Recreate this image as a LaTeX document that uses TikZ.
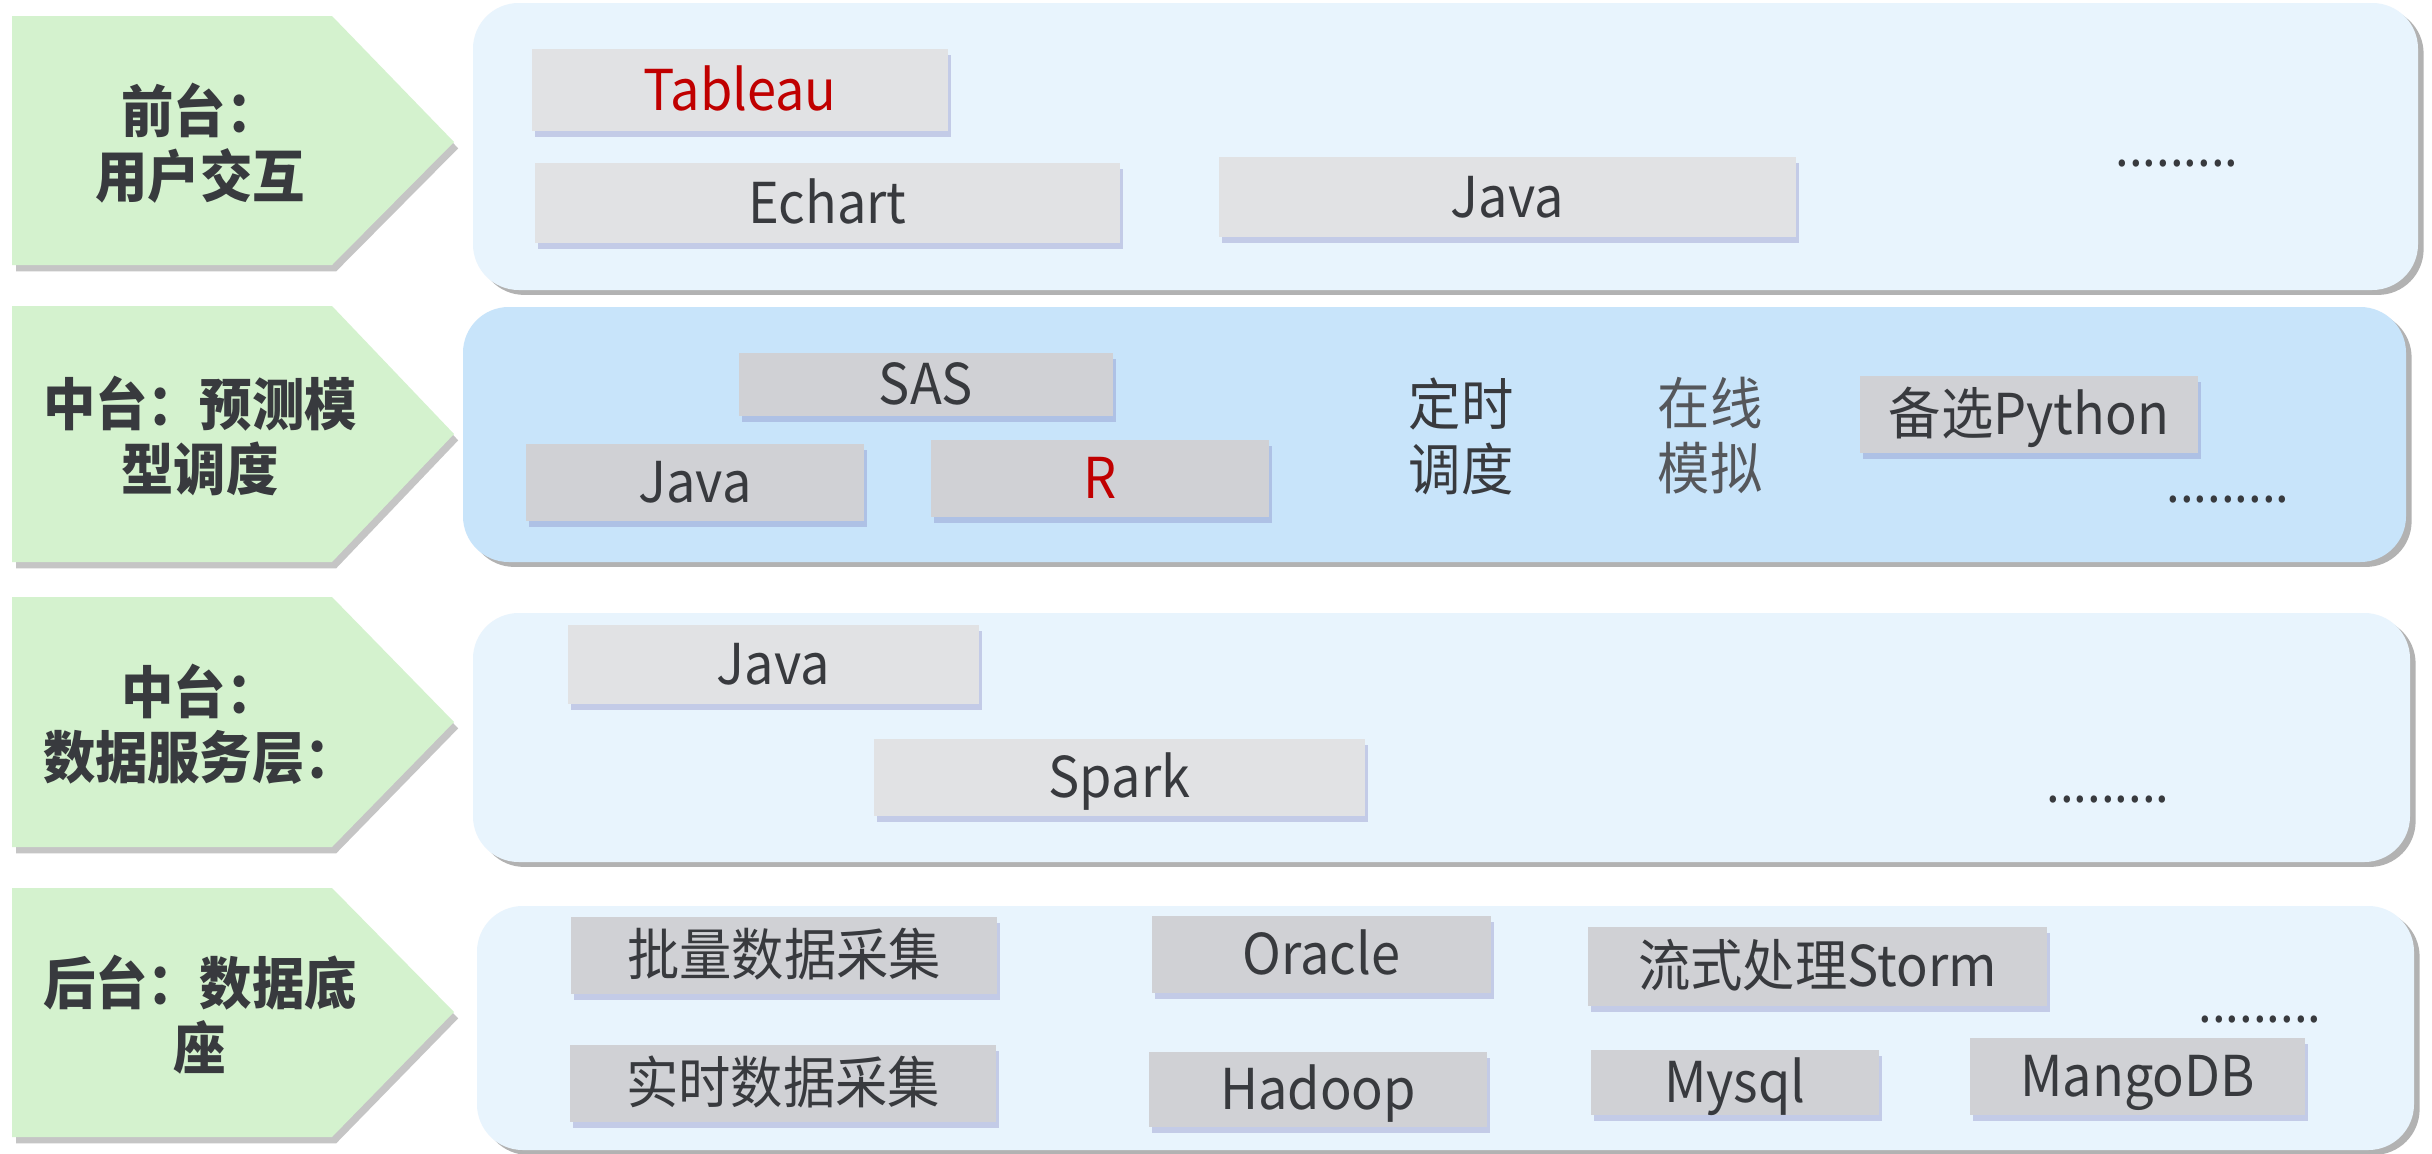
\documentclass[tikz,border=0pt]{standalone}
\usepackage{fontspec}
\setmainfont{Noto Sans CJK SC}[FakeStretch=0.93]
\usetikzlibrary{shadows,fit}
\definecolor{gfill}{HTML}{D4F2CE}
\definecolor{plight}{HTML}{E8F4FD}
\definecolor{pmid}{HTML}{C8E4FA}
\definecolor{blight}{HTML}{E1E2E4}
\definecolor{bmid}{HTML}{D0D1D5}
\definecolor{txt}{HTML}{383A3E}
\definecolor{txtsoft}{HTML}{55575B}
\definecolor{redtxt}{HTML}{C00000}
\tikzset{
  gshape/.style={fill=gfill, draw=none, drop shadow={shadow xshift=1.2pt, shadow yshift=-1.8pt, fill=black!50, opacity=0.45}},
  glabel/.style={font=\fontsize{16}{18.5}\selectfont\bfseries, text=txt, align=center, inner sep=0pt},
  panel/.style={draw=none, inner sep=0pt, rounded corners=13pt, drop shadow={shadow xshift=1.6pt, shadow yshift=-1.4pt, fill=black!50, opacity=0.6}},
  boxbase/.style={draw=none, inner sep=0pt,
     drop shadow={shadow xshift=0.9pt, shadow yshift=-1.8pt, fill=black!50!blue!50, opacity=0.35}},
  lbox/.style={boxbase, fill=blight},
  mbox/.style={boxbase, fill=bmid},
  btext/.style={inner sep=0pt, text=txt, font=\fontsize{16}{18.5}\selectfont, text height=11.6pt, text depth=0pt, anchor=center},
  dots/.style={font=\fontsize{15}{18}\selectfont, text=txt, inner sep=0pt, anchor=base},
  freetxt/.style={font=\fontsize{16}{18.5}\selectfont, align=center, inner sep=0pt},
}
\begin{document}
\begin{tikzpicture}[x=0.01cm,y=-0.01cm]
\useasboundingbox[fill=white] (0,0) rectangle (2432,1154);

% ---------- green arrows ----------
\path[gshape] (12,16) -- (332,16) -- (454,142) -- (332,265) -- (12,265) -- cycle;
\path[gshape] (12,306) -- (332,306) -- (454,434) -- (332,562) -- (12,562) -- cycle;
\path[gshape] (12,597) -- (332,597) -- (454,722) -- (332,847) -- (12,847) -- cycle;
\path[gshape] (12,888) -- (332,888) -- (454,1012) -- (332,1137) -- (12,1137) -- cycle;

\node[glabel] (l1) at (200,143) {前台：\\用户交互};
\node[glabel] (l2) at (200,436) {中台：预测模\\型调度};
\node[glabel] (l3) at (200,724) {中台：\\数据服务层：};
\node[glabel] (l4) at (200,1015) {后台：数据底\\座};

% ---------- panels ----------
\node[panel, fill=plight, fit={(473,3) (2418,290)}] (p1) {};
\node[panel, fill=pmid, fit={(463,307) (2406,562)}] (p2) {};
\node[panel, fill=plight, fit={(473,613) (2410,862)}] (p3) {};
\node[panel, fill=plight, fit={(477,906) (2414,1150)}] (p4) {};

% ---------- row 1 ----------
\node[lbox, fit={(532,49) (948,131)}] (tableau) {};
\node[btext, text=redtxt] (tableauT) at (tableau.center) {Tableau};
\node[lbox, fit={(535,163) (1120,243)}] (echart) {};
\node[btext] (echartT) at (echart.center) {Echart};
\node[lbox, fit={(1219,157) (1796,237)}] (java1) {};
\node[btext] (java1T) at (java1.center) {Java};
\node[dots] (d1) at (2177,166) {.........};

% ---------- row 2 ----------
\node[mbox, fit={(739,353) (1113,416)}] (sas) {};
\node[btext] (sasT) at (sas.center) {SAS};
\node[mbox, fit={(526,444) (864,521)}] (java2) {};
\node[btext] (java2T) at (java2.center) {Java};
\node[mbox, fit={(931,440) (1269,517)}] (r) {};
\node[btext, text=redtxt] (rT) at (r.center) {R};
\node[freetxt, text=txt] (dingshi) at (1461,436) {定时\\调度};
\node[freetxt, text=txtsoft] (zaixian) at (1710,436) {在线\\模拟};
\node[mbox, fit={(1860,376) (2198,453)}] (python) {};
\node[btext] (pythonT) at (python.center) {备选Python};
\node[dots] (d2) at (2228,502) {.........};

% ---------- row 3 ----------
\node[lbox, fit={(568,625) (979,704)}] (java3) {};
\node[btext] (java3T) at (java3.center) {Java};
\node[lbox, fit={(874,739) (1365,816)}] (spark) {};
\node[btext] (sparkT) at (spark.center) {Spark};
\node[dots] (d3) at (2108,802) {.........};

% ---------- row 4 ----------
\node[mbox, fit={(571,917) (997,994)}] (batch) {};
\node[btext] (batchT) at (batch.center) {批量数据采集};
\node[mbox, fit={(570,1045) (996,1122)}] (realtime) {};
\node[btext] (realtimeT) at (realtime.center) {实时数据采集};
\node[mbox, fit={(1152,916) (1491,993)}] (oracle) {};
\node[btext] (oracleT) at (oracle.center) {Oracle};
\node[mbox, fit={(1149,1052) (1487,1127)}] (hadoop) {};
\node[btext] (hadoopT) at (hadoop.center) {Hadoop};
\node[mbox, fit={(1588,927) (2047,1006)}] (storm) {};
\node[btext] (stormT) at (storm.center) {流式处理Storm};
\node[mbox, fit={(1591,1050) (1879,1115)}] (mysql) {};
\node[btext] (mysqlT) at (mysql.center) {Mysql};
\node[mbox, fit={(1970,1038) (2305,1115)}] (mango) {};
\node[btext] (mangoT) at (mango.center) {MangoDB};
\node[dots] (d4) at (2260,1022) {.........};
\end{tikzpicture}
\end{document}
